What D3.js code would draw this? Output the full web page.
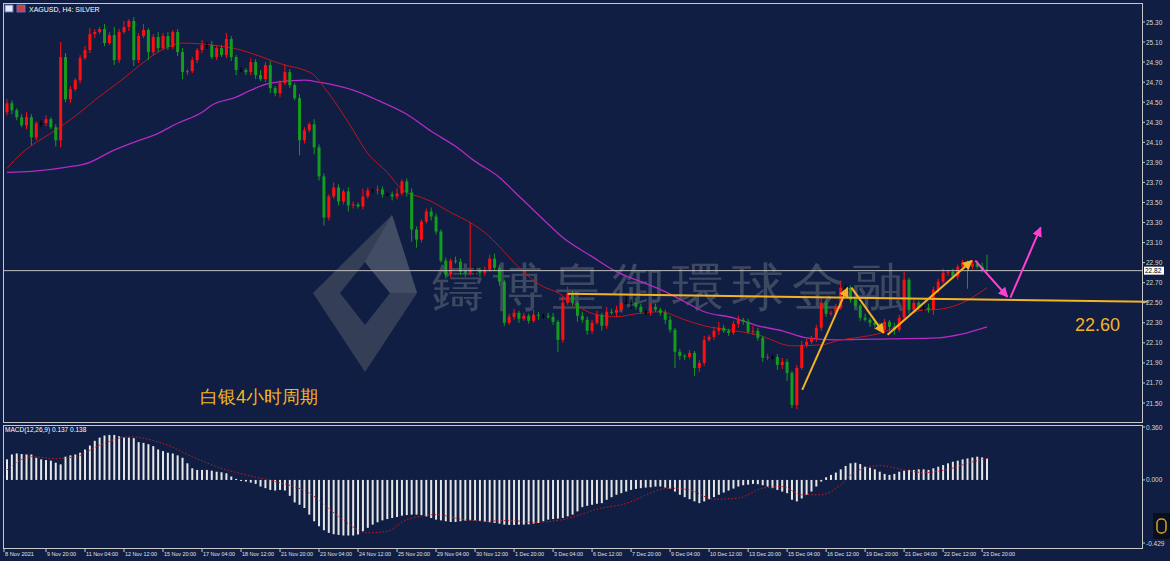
<!DOCTYPE html>
<html>
<head>
<meta charset="utf-8">
<title>XAGUSD H4</title>
<script src="https://cdn.jsdelivr.net/npm/d3@7"></script>
<style>
  body { margin: 0; background: #ffffff; }
  svg { display: block; }
  text { font-family: "Liberation Sans", sans-serif; }
</style>
</head>
<body>
<script>
// --- data ---
const closes = [24.49,24.42,24.35,24.27,24.35,24.15,24.29,24.29,24.33,24.25,24.12,24.95,24.53,24.63,24.72,24.94,25.02,25.18,25.20,25.23,
25.09,25.17,24.92,25.20,25.25,25.31,24.92,25.16,25.22,25.00,25.15,25.04,25.16,25.05,25.20,25.00,24.80,24.81,24.92,25.02,
25.07,25.07,24.95,25.04,24.97,25.13,24.95,24.82,24.82,24.80,24.90,24.77,24.73,24.87,24.64,24.59,24.69,24.80,24.67,24.54,
24.12,24.22,24.28,24.05,23.76,23.35,23.56,23.65,23.51,23.61,23.47,23.48,23.46,23.56,23.62,23.62,23.63,23.58,23.58,23.56,
23.59,23.71,23.60,23.23,23.13,23.31,23.41,23.36,23.21,22.92,22.78,22.92,22.91,22.81,22.80,22.83,22.83,22.80,22.83,22.94,
22.85,22.71,22.30,22.36,22.40,22.34,22.37,22.32,22.38,22.37,22.37,22.36,22.31,22.13,22.50,22.59,22.50,22.37,22.33,22.22,
22.30,22.38,22.27,22.41,22.40,22.43,22.50,22.50,22.50,22.46,22.41,22.41,22.46,22.43,22.40,22.33,22.23,22.01,21.97,21.96,
22.00,21.85,21.90,22.13,22.16,22.22,22.25,22.22,22.20,22.29,22.33,22.31,22.21,22.22,22.15,21.95,21.96,21.96,21.88,21.91,
21.80,21.48,21.85,22.08,22.11,22.15,22.25,22.50,22.39,22.40,22.45,22.65,22.65,22.53,22.47,22.35,22.33,22.30,22.28,22.23,
22.31,22.26,22.23,22.35,22.73,22.43,22.50,22.45,22.45,22.43,22.63,22.71,22.80,22.81,22.76,22.86,22.90,22.86,22.89,22.86,
22.83,22.82];
const firstOpen = 24.40;
// wick lengths beyond the body, in cents
const upperWick = [4,3,2,3,5,3,2,3,4,2,3,15,4,3,2,3,4,6,3,2,
5,3,8,3,6,2,4,3,6,2,3,5,3,4,2,3,4,2,3,2,
5,3,4,2,3,6,3,2,3,2,4,3,5,3,4,2,3,8,3,2,
4,3,2,5,3,3,2,5,3,2,4,3,2,8,3,2,4,3,2,3,
5,2,3,4,3,2,3,4,3,2,3,2,4,3,2,47,3,2,3,4,
5,3,2,3,4,2,3,2,5,3,2,3,4,2,6,7,3,2,4,3,
3,4,2,5,3,4,3,8,3,5,3,2,4,3,2,3,4,2,3,2,
3,2,3,4,2,4,6,3,2,3,4,2,3,5,3,2,3,2,3,4,
3,2,3,4,3,2,3,5,3,2,4,7,3,2,3,2,4,2,3,2,
3,2,4,3,8,2,3,2,3,4,3,3,4,2,3,2,3,2,3,3,
4,15];
const lowerWick = [3,4,3,2,4,8,3,4,3,2,6,7,3,4,2,3,2,3,4,2,
3,2,5,3,2,4,6,3,2,8,3,4,2,3,2,4,7,3,2,3,
3,4,2,3,2,3,4,5,2,3,3,4,2,3,5,3,4,2,3,2,
15,3,2,7,4,8,3,2,4,3,6,3,2,3,2,3,4,3,2,4,
3,2,4,12,8,3,2,4,3,2,4,3,2,3,4,3,6,4,3,2,
3,4,3,2,3,4,2,3,2,4,3,2,3,12,3,2,3,6,3,4,
3,2,5,3,2,4,3,2,6,3,2,3,4,2,3,4,3,16,4,3,
2,8,4,3,2,3,4,2,3,2,4,3,2,3,3,4,2,3,5,4,
8,3,4,2,3,2,4,3,3,2,3,2,4,3,2,3,2,4,3,2,
3,4,5,2,3,4,3,2,4,3,5,3,2,3,2,3,4,22,3,2,
3,2];

const redMaIdx = [0,3,6,9,12,15,18,21,24,27,30,33,36,42,48,50,57,61,63,65,68,71,74,78,81,85,87,91,95,98,101,104,110,113,115,121,125,129,134,139,143,148,154,161,167,171,174,181,187,192,196,201];
const redMaVal = [23.84,23.99,24.10,24.19,24.29,24.40,24.52,24.63,24.74,24.86,24.97,25.05,25.09,25.07,25.02,24.99,24.87,24.82,24.77,24.65,24.45,24.22,23.99,23.80,23.63,23.55,23.51,23.40,23.30,23.20,23.06,22.90,22.66,22.60,22.53,22.38,22.36,22.39,22.41,22.33,22.27,22.23,22.18,22.07,22.08,22.13,22.15,22.23,22.42,22.44,22.50,22.65];
const magMaIdx = [0,5,12,17,21,26,31,35,40,42,47,50,54,61,64,71,76,82,87,92,96,101,104,110,114,120,125,130,135,139,143,149,154,159,164,170,181,191,196,201];
const magMaVal = [23.80,23.81,23.85,23.90,24.00,24.10,24.19,24.29,24.40,24.47,24.55,24.62,24.69,24.72,24.70,24.62,24.52,24.38,24.21,24.06,23.91,23.75,23.61,23.33,23.15,22.96,22.81,22.71,22.61,22.51,22.41,22.35,22.27,22.22,22.15,22.13,22.14,22.15,22.19,22.26];

const macdHist = [0.140,0.173,0.180,0.176,0.173,0.173,0.151,0.140,0.135,0.131,0.117,0.106,0.158,0.167,0.173,0.185,0.207,0.234,0.266,0.288,
0.302,0.306,0.306,0.297,0.288,0.288,0.284,0.257,0.252,0.243,0.230,0.207,0.196,0.185,0.180,0.167,0.151,0.113,0.079,0.068,
0.068,0.068,0.063,0.056,0.052,0.045,0.023,0.007,-0.005,-0.011,-0.018,-0.027,-0.045,-0.056,-0.068,-0.072,-0.068,-0.072,-0.108,-0.153,
-0.169,-0.191,-0.236,-0.281,-0.315,-0.342,-0.360,-0.369,-0.374,-0.378,-0.378,-0.378,-0.371,-0.349,-0.326,-0.304,-0.288,-0.275,-0.266,-0.259,
-0.252,-0.243,-0.239,-0.236,-0.236,-0.239,-0.248,-0.259,-0.270,-0.275,-0.281,-0.286,-0.286,-0.281,-0.277,-0.275,-0.275,-0.279,-0.284,-0.288,
-0.293,-0.297,-0.304,-0.306,-0.306,-0.304,-0.304,-0.302,-0.297,-0.293,-0.281,-0.270,-0.266,-0.263,-0.259,-0.248,-0.236,-0.214,-0.185,-0.176,
-0.169,-0.162,-0.158,-0.135,-0.117,-0.101,-0.090,-0.079,-0.068,-0.061,-0.056,-0.052,-0.050,-0.045,-0.045,-0.052,-0.059,-0.079,-0.101,-0.117,
-0.131,-0.146,-0.158,-0.146,-0.131,-0.117,-0.101,-0.086,-0.072,-0.059,-0.045,-0.036,-0.032,-0.027,-0.029,-0.036,-0.045,-0.056,-0.068,-0.079,
-0.090,-0.135,-0.146,-0.126,-0.101,-0.079,-0.045,-0.011,0.018,0.034,0.050,0.072,0.095,0.113,0.117,0.108,0.090,0.083,0.072,0.056,
0.041,0.034,0.041,0.056,0.063,0.068,0.068,0.072,0.072,0.068,0.079,0.090,0.101,0.113,0.124,0.131,0.140,0.146,0.153,0.158,
0.153,0.146];
const signalIdx = [0,5,10,14,19,25,32,38,43,49,55,62,68,74,78,82,88,93,98,103,108,114,122,126,136,140,145,150,155,159,163,167,171,174,179,184,188,193,197,201];
const signalVal = [0.068,0.158,0.146,0.158,0.236,0.293,0.248,0.158,0.090,0.034,-0.011,-0.090,-0.248,-0.360,-0.349,-0.270,-0.236,-0.266,-0.281,-0.275,-0.288,-0.270,-0.191,-0.169,-0.056,-0.068,-0.131,-0.124,-0.056,-0.045,-0.101,-0.101,-0.034,0.056,0.097,0.068,0.050,0.072,0.113,0.146];

const timeLabels = ["8 Nov 2021","9 Nov 20:00","11 Nov 04:00","12 Nov 12:00","15 Nov 20:00","17 Nov 04:00","18 Nov 12:00",
"21 Nov 20:00","23 Nov 04:00","24 Nov 12:00","25 Nov 20:00","29 Nov 04:00","30 Nov 12:00","1 Dec 20:00","3 Dec 04:00",
"6 Dec 12:00","7 Dec 20:00","9 Dec 04:00","10 Dec 12:00","13 Dec 20:00","15 Dec 04:00","16 Dec 12:00","19 Dec 20:00",
"21 Dec 04:00","22 Dec 12:00","23 Dec 20:00"];
const priceTicks = [25.30,25.10,24.90,24.70,24.50,24.30,24.10,23.90,23.70,23.50,23.30,23.10,22.90,22.70,22.50,22.30,22.10,21.90,21.70,21.50];
const macdTicks = [0.360,0.000,-0.429];
const lastPrice = 22.82;
// support line (bar, price) and the drawn arrows
const supportLine = [[115,22.59],[234,22.51]];
const yellowArrows = [[[163.1,21.63],[172.4,22.65]],[[173.2,22.65],[179.8,22.20]],[[180.6,22.18],[197.9,22.92]]];
const pinkArrows = [[[198.6,22.92],[205.2,22.56]],[[205.8,22.55],[212,23.25]]];

// --- layout ---
const W = 1170, H = 561;
const bg = "#0f1e42", grid = "#c8c8c8";
const svg = d3.select("body").append("svg").attr("width", W).attr("height", H);
svg.append("rect").attr("width", W).attr("height", H).attr("fill", bg);

const x = d3.scaleLinear().domain([0, 201]).range([7, 987]);
const y = d3.scaleLinear().domain([21.5, 25.3]).range([403, 22]);
const ym = d3.scaleLinear().domain([-0.429, 0.36]).range([543, 427]);

const defs = svg.append("defs");
function marker(id, color) {
  defs.append("marker").attr("id", id).attr("viewBox", "0 0 10 10").attr("refX", 9).attr("refY", 5)
    .attr("markerWidth", 5).attr("markerHeight", 5).attr("orient", "auto")
    .append("path").attr("d", "M0,0L10,5L0,10z").attr("fill", color);
}
marker("ay", "#f5b324");
marker("ap", "#ff3fd0");

// watermark
const wm = svg.append("g").attr("opacity", 0.3);
wm.append("path").attr("d", "M392,215 L417,293 L365,372 L313,293 Z M365,262 L390,293 L365,325 L340,293 Z")
  .attr("fill-rule", "evenodd").attr("fill", "#8a8a8a");
wm.append("path").attr("d", "M392,215 L417,293 L390,293 L365,262 Z").attr("fill", "#b8b8b8");
wm.append("text").attr("x", 432).attr("y", 305).attr("font-size", 52).attr("fill", "#a8a8a8")
  .attr("letter-spacing", 8).attr("font-family", "Noto Sans CJK TC").text("鑄博皇御環球金融");

// panel frames
svg.append("rect").attr("x", 3.5).attr("y", 3.5).attr("width", 1139).attr("height", 419).attr("fill", "none").attr("stroke", grid);
svg.append("rect").attr("x", 3.5).attr("y", 425.5).attr("width", 1139).attr("height", 123).attr("fill", "none").attr("stroke", grid);

// moving averages
const line = d3.line().curve(d3.curveMonotoneX);
svg.append("path").attr("d", line(magMaIdx.map((d, i) => [x(d), y(magMaVal[i])])))
  .attr("fill", "none").attr("stroke", "#b52ac4").attr("stroke-width", 1.3);
svg.append("path").attr("d", line(redMaIdx.map((d, i) => [x(d), y(redMaVal[i])])))
  .attr("fill", "none").attr("stroke", "#c0151c").attr("stroke-width", 1);

// candles
const candles = closes.map((c, i) => {
  const o = i === 0 ? firstOpen : closes[i - 1];
  return { i, o, c, h: Math.max(o, c) + upperWick[i] / 100, l: Math.min(o, c) - lowerWick[i] / 100 };
});
const col = d => d.c > d.o ? "#ff1010" : d.c < d.o ? "#149c1e" : "#000000";
const cg = svg.append("g");
cg.selectAll("line").data(candles).join("line")
  .attr("x1", d => x(d.i)).attr("x2", d => x(d.i)).attr("y1", d => y(d.h)).attr("y2", d => y(d.l))
  .attr("stroke", col).attr("stroke-width", 1);
cg.selectAll("rect").data(candles).join("rect")
  .attr("x", d => x(d.i) - 1.5).attr("width", 3)
  .attr("y", d => y(Math.max(d.o, d.c))).attr("height", d => Math.max(1, Math.abs(y(d.o) - y(d.c))))
  .attr("fill", col);

// last price line
svg.append("line").attr("x1", 4).attr("x2", 1142).attr("y1", y(lastPrice)).attr("y2", y(lastPrice))
  .attr("stroke", "#c0c0c0").attr("stroke-width", 1);

// support line and arrows
svg.append("line").attr("x1", x(supportLine[0][0])).attr("y1", y(supportLine[0][1]))
  .attr("x2", x(supportLine[1][0])).attr("y2", y(supportLine[1][1])).attr("stroke", "#f5b324").attr("stroke-width", 2);
yellowArrows.forEach(a => svg.append("line").attr("x1", x(a[0][0])).attr("y1", y(a[0][1])).attr("x2", x(a[1][0])).attr("y2", y(a[1][1]))
  .attr("stroke", "#f5b324").attr("stroke-width", 2).attr("marker-end", "url(#ay)"));
pinkArrows.forEach(a => svg.append("line").attr("x1", x(a[0][0])).attr("y1", y(a[0][1])).attr("x2", x(a[1][0])).attr("y2", y(a[1][1]))
  .attr("stroke", "#ff3fd0").attr("stroke-width", 2).attr("marker-end", "url(#ap)"));

svg.append("text").attr("x", 1075).attr("y", 331).attr("fill", "#f5b324").attr("font-size", 18)
  .attr("font-family", "Noto Sans").text("22.60");
svg.append("text").attr("x", 200).attr("y", 403).attr("fill", "#f5b324").attr("font-size", 18)
  .attr("font-family", "Noto Sans CJK SC").text("白银4小时周期");

// title
svg.append("rect").attr("x", 5).attr("y", 5).attr("width", 8).attr("height", 7).attr("fill", "#e8e8ff").attr("stroke", "#6070c0");
svg.append("rect").attr("x", 17).attr("y", 5).attr("width", 8).attr("height", 7).attr("fill", "#d04040").attr("stroke", "#6070c0");
svg.append("text").attr("x", 29).attr("y", 12).attr("fill", "#ffffff").attr("font-size", 7).text("XAGUSD, H4:  SILVER");

// price axis
const pa = svg.append("g").attr("transform", "translate(1142,0)");
pa.selectAll("line").data(priceTicks).join("line").attr("x1", 0).attr("x2", 3).attr("y1", d => y(d)).attr("y2", d => y(d)).attr("stroke", grid);
pa.selectAll("text").data(priceTicks).join("text").attr("x", 4).attr("y", d => y(d) + 2.5)
  .attr("fill", "#d8d8d8").attr("font-size", 6.5).text(d => d.toFixed(2));
pa.append("rect").attr("x", 2).attr("y", y(lastPrice) - 4).attr("width", 20).attr("height", 8).attr("fill", "#ffffff");
pa.append("text").attr("x", 3).attr("y", y(lastPrice) + 2.5).attr("fill", "#000").attr("font-size", 6.5).text(lastPrice.toFixed(2));

// MACD
svg.append("text").attr("x", 5).attr("y", 432).attr("fill", "#ffffff").attr("font-size", 6.5).text("MACD(12,26,9) 0.137 0.138");
svg.append("g").selectAll("rect").data(macdHist).join("rect")
  .attr("x", (d, i) => x(i) - 1).attr("width", 2)
  .attr("y", d => Math.min(ym(d), ym(0))).attr("height", d => Math.max(1, Math.abs(ym(d) - ym(0))))
  .attr("fill", "#e6e6e6");
svg.append("path").attr("d", line(signalIdx.map((d, i) => [x(d), ym(signalVal[i])])))
  .attr("fill", "none").attr("stroke", "#d01a1a").attr("stroke-width", 1).attr("stroke-dasharray", "1.5,2");
const ma = svg.append("g").attr("transform", "translate(1142,0)");
ma.selectAll("line").data(macdTicks).join("line").attr("x1", 0).attr("x2", 3).attr("y1", d => ym(d)).attr("y2", d => ym(d)).attr("stroke", grid);
ma.selectAll("text").data(macdTicks).join("text").attr("x", 4).attr("y", d => ym(d) + 2.5)
  .attr("fill", "#d8d8d8").attr("font-size", 6.5).text(d => d.toFixed(3));
svg.append("rect").attr("x", 1153).attr("y", 513).attr("width", 17).attr("height", 26).attr("fill", "#0a0f1e");
svg.append("rect").attr("x", 1157).attr("y", 519).attr("width", 9).attr("height", 14).attr("rx", 4).attr("fill", "none").attr("stroke", "#d8a030").attr("stroke-width", 1.5);

// time axis
const ta = svg.append("g");
ta.selectAll("line").data(timeLabels).join("line")
  .attr("x1", (d, k) => k === 0 ? 4 : x(8 * k)).attr("x2", (d, k) => k === 0 ? 4 : x(8 * k))
  .attr("y1", 548).attr("y2", 552).attr("stroke", grid);
ta.selectAll("text").data(timeLabels).join("text")
  .attr("x", (d, k) => (k === 0 ? 4 : x(8 * k)) + 1).attr("y", 556)
  .attr("fill", "#e0e0e0").attr("font-size", 6).attr("textLength", d => d.length > 11 ? 32 : 29)
  .attr("lengthAdjust", "spacingAndGlyphs").text(d => d);
</script>
</body>
</html>
